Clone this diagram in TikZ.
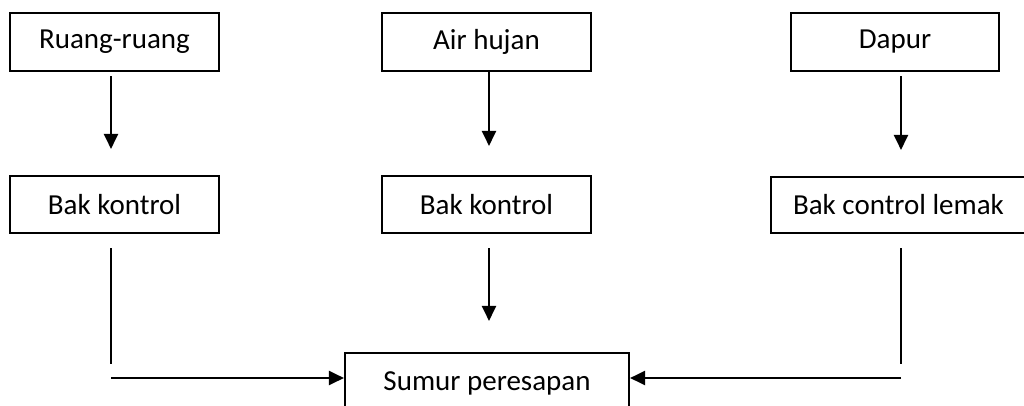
\documentclass[tikz,border=0pt]{standalone}
\usepackage{fontspec}
\setmainfont{Carlito}
\usetikzlibrary{arrows.meta,calc}
\begin{document}
\begin{tikzpicture}[x=1pt,y=-1pt,
  box/.style={draw,line width=2.1pt,minimum height=58pt,inner sep=0pt,font=\fontsize{29}{34}\selectfont},
  ln/.style={line width=2.1pt},
  arr/.style={line width=2.1pt,-{Triangle[width=14pt,length=15pt]}}]
\useasboundingbox (0,0) rectangle (1024,405);
\clip (0,0) rectangle (1024,405);
\node[box,minimum width=209pt] (rr) at (114.5,42) {Ruang-ruang};
\node[box,minimum width=209pt] (ah) at (486.5,42) {Air hujan};
\node[box,minimum width=208pt] (dp) at (895,42) {Dapur};
\node[box,minimum width=209pt,minimum height=57pt] (bk1) at (114.5,204.5) {Bak kontrol};
\node[box,minimum width=209pt,minimum height=57pt] (bk2) at (486.5,204.5) {Bak kontrol};
\node[box,minimum width=255pt,minimum height=56pt] (bk3) at (898.5,205) {Bak control lemak};
\node[box,minimum width=284pt,minimum height=60pt] (sp) at (487,383) {Sumur peresapan};
% top arrows
\draw[arr] ($(rr.south)+(-3.5,4)$) -- ($(bk1.north)+(-3.5,-26)$);
\draw[arr] ($(ah.south)+(2.5,0)$) -- ($(bk2.north)+(2.5,-29)$);
\draw[arr] ($(dp.south)+(6,4)$) -- ($(bk3.north)+(2.5,-26)$);
% lower connectors
\coordinate (l1) at ($(bk1.south)+(-3.5,14)$);
\coordinate (l2) at (111,364);
\coordinate (h1) at (111,378);
\draw[ln] (l1) -- (l2);
\draw[arr] (h1) -- (h1 -| sp.west);
\draw[arr] ($(bk2.south)+(2.5,14)$) -- ($(sp.north)+(2,-31)$);
\coordinate (r1) at ($(bk3.south)+(2.5,14)$);
\coordinate (r2) at (901,364);
\coordinate (h2) at (901,378);
\draw[ln] (r1) -- (r2);
\draw[arr] (h2) -- (h2 -| sp.east);
\end{tikzpicture}
\end{document}
